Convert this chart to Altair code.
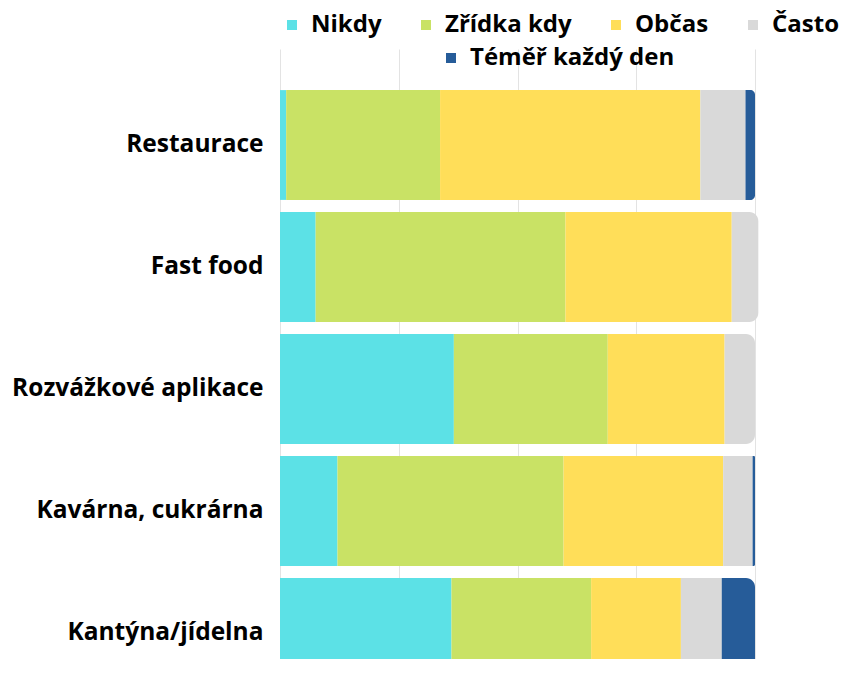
import altair as alt
import pandas as pd

categories = ["Restaurace", "Fast food", "Rozvážkové aplikace", "Kavárna, cukrárna", "Kantýna/jídelna"]
series = ["Nikdy", "Zřídka kdy", "Občas", "Často", "Téměř každý den"]
colors = ["#5ce1e6", "#c9e265", "#ffde59", "#d9d9d9", "#265c99"]

nikdy = [1.3, 7.5, 36.6, 12.1, 36.1]
zridka = [32.4, 52.6, 32.4, 47.6, 29.4]
obcas = [54.8, 35.0, 24.6, 33.6, 18.9]
casto = [9.5, 5.6, 6.4, 6.2, 8.6]
temer = [2.0, 0.0, 0.0, 0.5, 7.0]

values = [nikdy, zridka, obcas, casto, temer]
rows = []
for i, cat in enumerate(categories):
    start = 0.0
    segs = []
    for s, vals in zip(series, values):
        v = vals[i]
        if v > 0:
            segs.append({"cat": cat, "series": s, "start": start, "end": start + v, "last": False})
            start += v
    segs[-1]["last"] = True
    rows.extend(segs)
df = pd.DataFrame(rows)

FONT = "Open Sans"

base = alt.Chart(df).encode(
    y=alt.Y("cat:N", sort=categories, title=None,
            scale=alt.Scale(paddingInner=0.1, paddingOuter=0.05, range=[0, 610]),
            axis=alt.Axis(ticks=False, domain=False, grid=False, labelPadding=17,
                          labelFont=FONT, labelFontSize=24.5, labelFontWeight="bold",
                          labelColor="#000000", labelLimit=400)),
    x=alt.X("start:Q", title=None, scale=alt.Scale(domain=[0, 100], nice=False),
            axis=alt.Axis(values=[0, 25, 50, 75, 100], labels=False, ticks=False,
                          domain=False, grid=True, gridColor="#e3e3e3", gridWidth=1)),
    x2="end:Q",
)

legend_common = dict(
    orient="none", direction="horizontal", title=None, symbolType="square",
    symbolSize=100, symbolStrokeWidth=0, labelFont=FONT, labelFontSize=24,
    labelFontWeight="bold", labelColor="#000000", labelOffset=7,
    columnPadding=32, padding=0, labelLimit=400,
)

color_main = alt.Color(
    "series:N",
    scale=alt.Scale(domain=series[:4], range=colors[:4]),
    legend=alt.Legend(legendX=0, legendY=-71, **legend_common),
)
color_daily = alt.Color(
    "series:N",
    scale=alt.Scale(domain=series[4:], range=colors[4:]),
    legend=alt.Legend(legendX=159, legendY=-38, **legend_common),
)

l1 = base.transform_filter("!datum.last").mark_bar().encode(color=color_main)
l2 = base.transform_filter("datum.last && datum.series != 'Téměř každý den'").mark_bar(
    cornerRadiusTopRight=9, cornerRadiusBottomRight=9).encode(color=color_main)
l3 = base.transform_filter("datum.series == 'Téměř každý den'").mark_bar(
    cornerRadiusTopRight=9, cornerRadiusBottomRight=9).encode(color=color_daily)

chart = alt.layer(alt.layer(l1, l2), l3).resolve_scale(color="independent").properties(
    width=475, height=575,
    autosize=alt.AutoSizeParams(type="none"),
    padding={"left": 272, "top": 76, "right": 96, "bottom": 0},
).configure_view(stroke=None)

chart.save("out.html", embed_options={"renderer": "svg", "actions": False})
